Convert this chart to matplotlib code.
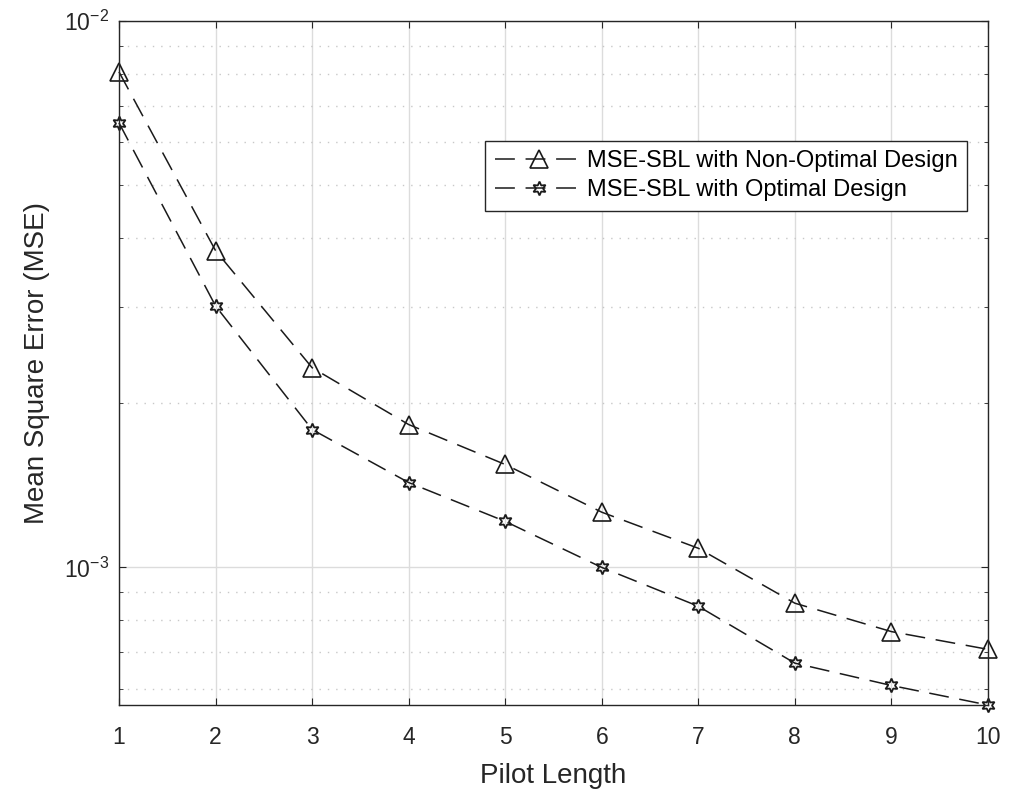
import numpy as np
import matplotlib.pyplot as plt
from matplotlib.ticker import LogLocator, NullFormatter

plt.rcParams['font.family'] = ['Liberation Sans', 'DejaVu Sans']
plt.rcParams['mathtext.fontset'] = 'custom'
plt.rcParams['mathtext.rm'] = 'Liberation Sans'
plt.rcParams['mathtext.it'] = 'Liberation Sans:italic'
plt.rcParams['mathtext.bf'] = 'Liberation Sans:bold'

# Data
pilot_length = [1, 2, 3, 4, 5, 6, 7, 8, 9, 10]
mse_non_opt = [8.07e-3, 3.80e-3, 2.32e-3, 1.826e-3, 1.543e-3, 1.262e-3, 1.084e-3, 8.6e-4, 7.63e-4, 7.08e-4]
mse_opt = [6.51e-3, 3.01e-3, 1.788e-3, 1.43e-3, 1.214e-3, 1.0e-3, 8.49e-4, 6.68e-4, 6.08e-4, 5.6e-4]

fig = plt.figure(figsize=(10.10, 7.95), dpi=100)
ax = fig.add_axes([0.1178, 0.1132, 0.8604, 0.8604])

dash = (0, (13, 7))
ax.semilogy(pilot_length, mse_non_opt, color='#1a1a1a', linestyle=dash, linewidth=1.1,
            marker='^', markersize=13, markerfacecolor='none', markeredgewidth=1.2,
            clip_on=False, label='MSE-SBL with Non-Optimal Design')
ax.semilogy(pilot_length, mse_opt, color='#1a1a1a', linestyle=dash, linewidth=1.1,
            marker=(6, 1, 0), markersize=10, markerfacecolor='none', markeredgewidth=1.3,
            clip_on=False, label='MSE-SBL with Optimal Design')

ax.set_xlim(1, 10)
ax.set_ylim(5.6e-4, 1e-2)
ax.set_xticks(pilot_length)
ax.yaxis.set_major_locator(LogLocator(base=10))
ax.yaxis.set_minor_locator(LogLocator(base=10, subs=np.arange(2, 10)))
ax.yaxis.set_minor_formatter(NullFormatter())

ax.grid(True, which='major', color='#dcdcdc', linestyle='-', linewidth=1)
ax.grid(True, which='minor', axis='y', color='#c8c8c8', linestyle=(0, (1, 5)), linewidth=1)
ax.set_axisbelow(True)

ax.tick_params(axis='both', which='both', direction='in', top=True, right=True,
               labelsize=16.5, colors='#262626', length=5)
ax.tick_params(axis='x', which='major', pad=15)
ax.tick_params(axis='y', which='major', pad=7)
ax.tick_params(axis='y', which='minor', length=3)
for s in ax.spines.values():
    s.set_color('#262626')
    s.set_linewidth(1)

ax.set_xlabel('Pilot Length', fontsize=20, color='#262626', labelpad=10)
ax.set_ylabel('Mean Square Error (MSE)', fontsize=20, color='#262626', labelpad=10)

leg = ax.legend(loc='upper right', bbox_to_anchor=(0.976, 0.8246), fontsize=17,
                fancybox=False, edgecolor='#262626', framealpha=1,
                handlelength=3.7, borderpad=0.4, labelspacing=0.3, handletextpad=0.2,
                borderaxespad=0)
leg.get_frame().set_linewidth(1)

fig.savefig('out.png', dpi=100)
